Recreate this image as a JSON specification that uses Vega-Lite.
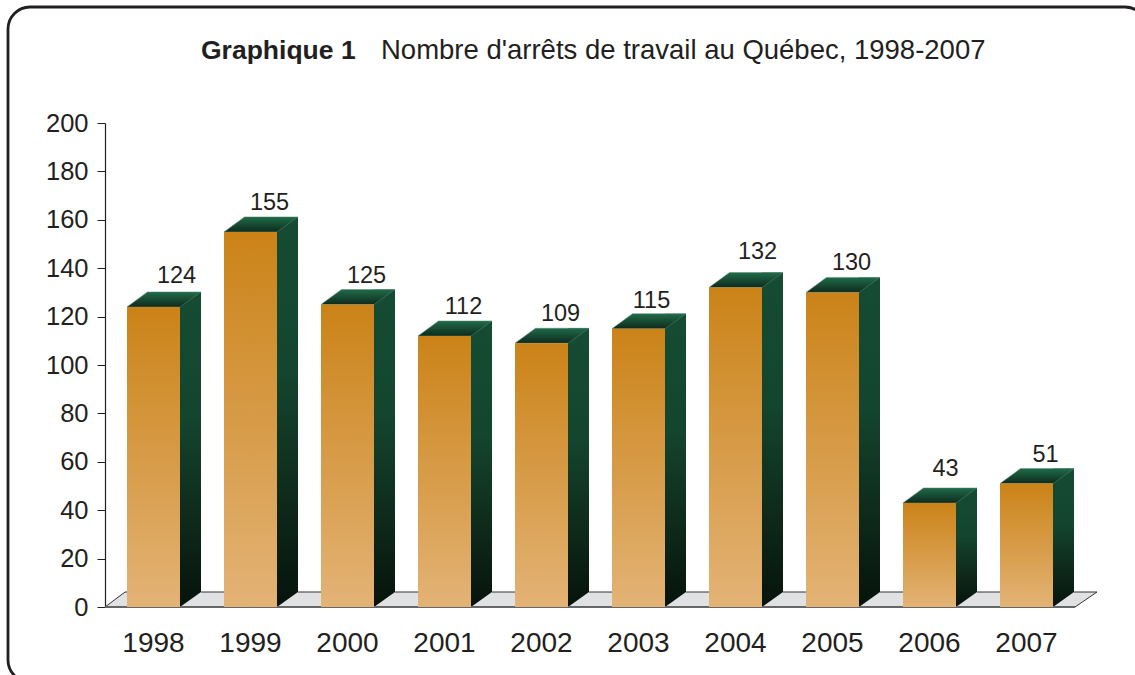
{
"$schema":"https://vega.github.io/schema/vega-lite/v6.json",
"width":970,"height":484,"autosize":"none",
"padding":{"left":105,"top":123,"right":60,"bottom":68},
"background":"white",
"view":{"stroke":null},
"data":{"values":[
{"annee":"1998","arrets":124},{"annee":"1999","arrets":155},{"annee":"2000","arrets":125},{"annee":"2001","arrets":112},{"annee":"2002","arrets":109},{"annee":"2003","arrets":115},{"annee":"2004","arrets":132},{"annee":"2005","arrets":130},{"annee":"2006","arrets":43},{"annee":"2007","arrets":51}]},
"encoding":{
"x":{"field":"annee","type":"nominal","scale":{"paddingInner":0,"paddingOuter":0},"axis":{"title":null,"labelAngle":0,"labelFont":"Liberation Sans","labelFontSize":28,"labelColor":"#231f20","labelPadding":22,"ticks":false,"domain":false,"grid":false}},
"y":{"field":"arrets","type":"quantitative","scale":{"domain":[0,200],"nice":false},"axis":{"title":null,"values":[0,20,40,60,80,100,120,140,160,180,200],"labelFont":"Liberation Sans","labelFontSize":25.5,"labelColor":"#231f20","labelPadding":9,"tickSize":8,"tickColor":"#231f20","tickWidth":1,"domainColor":"#231f20","domainWidth":1.2,"grid":false}}
},
"layer":[
{"transform":[{"filter":"datum.annee=='2002'"}],"mark":{"type":"point","filled":true,"opacity":1,"fill":"#dfe1e3","stroke":"#333333","strokeWidth":1,"size":4,"shape":"M -436.5 0 L -416.5 -15 L 555.5 -15 L 533.5 0 Z"},"encoding":{"y":{"datum":0}}},
{"mark":{"type":"bar","width":21,"xOffset":37,"yOffset":-15,"fill":{"gradient":"linear","x1":0,"y1":0,"x2":0,"y2":1,"stops":[{"offset":0,"color":"#154c33"},{"offset":0.4,"color":"#14452e"},{"offset":0.72,"color":"#0e2a1b"},{"offset":1,"color":"#06130c"}]}},"encoding":{"y2":{"datum":0}}},
{"mark":{"type":"point","filled":true,"opacity":1,"fill":"#dfe1e3","strokeOpacity":0,"size":4,"shape":"M 26.5 0 L 47.5 0 L 47.5 -15 Z"},"encoding":{"y":{"datum":0}}},
{"mark":{"type":"point","filled":true,"opacity":1,"size":4,"stroke":"#5f8a76","strokeWidth":0.5,"fill":{"gradient":"linear","x1":0,"y1":0,"x2":0,"y2":1,"stops":[{"offset":0,"color":"#1f6c49"},{"offset":1,"color":"#0f2a1e"}]},"shape":"M -26.5 0 L -6 -15 L 47.5 -15 L 26.5 0 Z"}},
{"mark":{"type":"rule","color":"#666666","strokeWidth":2},"encoding":{"x":{"value":0},"x2":{"value":970},"y":{"datum":0}}},
{"mark":{"type":"bar","width":53,"fill":{"gradient":"linear","x1":0,"y1":0,"x2":0,"y2":1,"stops":[{"offset":0,"color":"#cb8318"},{"offset":1,"color":"#e3b376"}]}},"encoding":{"y2":{"datum":0}}},
{"transform":[{"filter":"datum.arrets!=115 && datum.arrets!=132 && datum.arrets!=43 && datum.arrets!=124"}],"mark":{"type":"text","font":"Liberation Sans","fontSize":23.5,"color":"#231f20","dx":19,"dy":-29},"encoding":{"text":{"field":"arrets","type":"quantitative"}}},
{"transform":[{"filter":"datum.arrets==124"}],"mark":{"type":"text","font":"Liberation Sans","fontSize":23.5,"color":"#231f20","dx":23,"dy":-31},"encoding":{"text":{"field":"arrets","type":"quantitative"}}},
{"transform":[{"filter":"datum.arrets==115"}],"mark":{"type":"text","font":"Liberation Sans","fontSize":23.5,"color":"#231f20","dx":13,"dy":-28},"encoding":{"text":{"field":"arrets","type":"quantitative"}}},
{"transform":[{"filter":"datum.arrets==132"}],"mark":{"type":"text","font":"Liberation Sans","fontSize":23.5,"color":"#231f20","dx":22,"dy":-36},"encoding":{"text":{"field":"arrets","type":"quantitative"}}},
{"transform":[{"filter":"datum.arrets==43"}],"mark":{"type":"text","font":"Liberation Sans","fontSize":23.5,"color":"#231f20","dx":16,"dy":-34},"encoding":{"text":{"field":"arrets","type":"quantitative"}}},
{"data":{"values":[{"t":"Graphique 1"}]},"mark":{"type":"text","font":"Liberation Sans","fontSize":26.5,"fontWeight":"bold","color":"#231f20","align":"left","baseline":"alphabetic"},"encoding":{"x":{"value":96},"y":{"value":-64},"text":{"field":"t"}}},
{"data":{"values":[{"t":"Nombre d'arrêts de travail au Québec, 1998-2007"}]},"mark":{"type":"text","font":"Liberation Sans","fontSize":27.5,"color":"#231f20","align":"left","baseline":"alphabetic"},"encoding":{"x":{"value":276},"y":{"value":-64},"text":{"field":"t"}}},
{"data":{"values":[{}]},"mark":{"type":"rect","cornerRadius":22,"fill":null,"stroke":"#231f20","strokeWidth":2.8},"encoding":{"x":{"value":-97},"x2":{"value":1042},"y":{"value":-116},"y2":{"value":559}}}
]
}
